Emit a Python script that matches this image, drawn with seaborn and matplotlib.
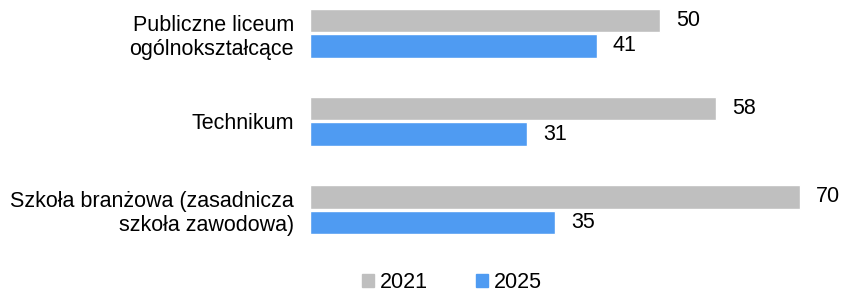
import pandas as pd
import seaborn as sns
import matplotlib.pyplot as plt
from matplotlib.patches import Patch

# data
schools = ['Publiczne liceum\nogólnokształcące', 'Technikum', 'Szkoła branżowa (zasadnicza\nszkoła zawodowa)']
years = ['2021', '2025']
vals_2021 = [50, 58, 70]
vals_2025 = [41, 31, 35]
colors = ['#BFBFBF', '#4F9BF2']

df = pd.DataFrame({
    'school': schools * 2,
    'year': [years[0]] * 3 + [years[1]] * 3,
    'value': vals_2021 + vals_2025,
})

sns.set_style('white')
plt.rcParams['font.family'] = ['Liberation Sans', 'DejaVu Sans']
plt.rcParams['text.color'] = 'black'
plt.rcParams['ytick.color'] = 'black'

fig = plt.figure(figsize=(8.42, 2.92), dpi=100)
ax = fig.add_axes([310 / 842, 42 / 292, 532 / 842, 250 / 292])

sns.barplot(data=df, y='school', x='value', hue='year', palette=colors,
            orient='h', width=0.57, gap=0.08, ax=ax, legend=False, saturation=1)

for c in ax.containers:
    ax.bar_label(c, padding=11.5, fontsize=15.5, color='black')

ax.set_xlim(0, 76)
ax.set_ylim(2.46, -0.38)
ax.set_xlabel('')
ax.set_ylabel('')
ax.set_xticks([])
ax.tick_params(axis='y', length=0, pad=11.5, labelsize=15.5, labelcolor='black')
sns.despine(ax=ax, left=True, bottom=True)

handles = [Patch(color=colors[0], label=years[0]), Patch(color=colors[1], label=years[1])]
fig.legend(handles=handles, loc='center', bbox_to_anchor=(452 / 842, 1 - 283 / 292),
           ncol=2, frameon=False, fontsize=15.5, handlelength=0.55, handleheight=0.55,
           handletextpad=0.3, columnspacing=2.2, borderpad=0)

plt.savefig('out.png', dpi=100)
